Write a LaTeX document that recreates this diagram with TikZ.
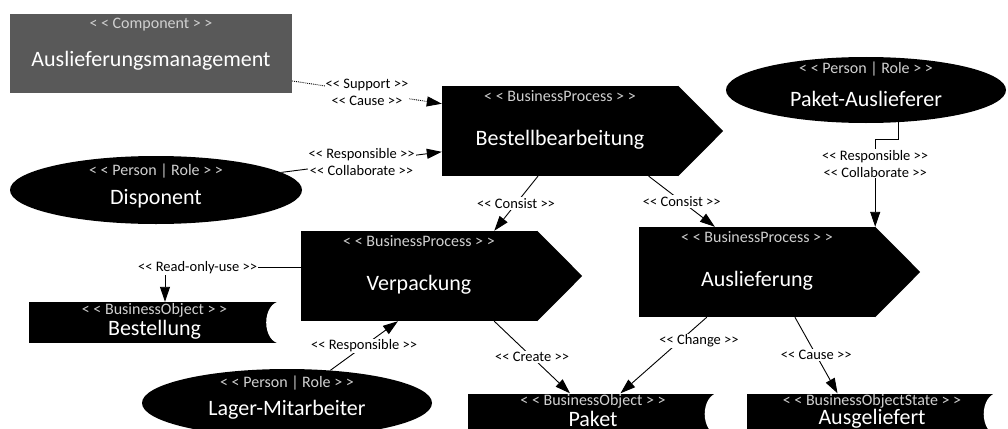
\documentclass[tikz,border=0pt]{standalone}
\usepackage{fontspec}
\setmainfont{Carlito}[Ligatures=TeXOff]
\usepackage{tikz}
\usetikzlibrary{shapes.geometric, arrows.meta, positioning}

\definecolor{compgray}{HTML}{595959}
\definecolor{stgray}{HTML}{D0D0D0}

% pointed end of a process box, concave end of an object box
\newcommand\proctip[1]{\fill (#1.north east) -- ([xshift=45pt]#1.east) -- (#1.south east) -- cycle;}
\newcommand\objbite[1]{\fill[white] (#1.east) ellipse [x radius=14, y radius=21];}

\begin{document}
\begin{tikzpicture}[x=1pt, y=-1pt,
  box/.style={fill=black, inner sep=0pt},
  proc/.style={box, minimum width=236pt, minimum height=90pt},
  person/.style={box, ellipse, minimum width=#1, minimum height=68pt},
  obj/.style={box, minimum width=251pt, minimum height=41pt},
  st/.style={font=\fontsize{16}{16}\selectfont, text=stgray, inner sep=1pt, anchor=north, yshift=-3pt},
  nm/.style={font=\fontsize{22}{22}\selectfont, text=white, inner sep=0pt, yshift=-9pt},
  conn/.style={line width=0.9pt, -{Triangle[length=15pt, width=10pt]}},
  lbl/.style={font=\fontsize{14.5}{17}\selectfont, fill=white, inner sep=1pt, align=center},
]
  \clip (0,0) rectangle (1008,428);

  \node[box, fill=compgray, minimum width=282pt, minimum height=79pt,
    label={[st]north:< < Component > >},
    label={[nm, yshift=2pt]center:Auslieferungsmanagement}] (comp) at (151,53.5) {};

  \node[proc, label={[st]north:< < BusinessProcess > >},
    label={[nm]center:Bestellbearbeitung}] (bestell) at (560,131) {};
  \node[proc, label={[st]north:< < BusinessProcess > >},
    label={[nm]center:Verpackung}] (verpack) at (419,276) {};
  \node[proc, label={[st]north:< < BusinessProcess > >},
    label={[nm]center:Auslieferung}] (ausl) at (757,272) {};
  \proctip{bestell}
  \proctip{verpack}
  \proctip{ausl}

  \node[person=292pt, label={[st, yshift=-4pt]north:< < Person | Role > >},
    label={[nm]center:Disponent}] (disp) at (156,190) {};
  \node[person=280pt, minimum height=66pt, label={[st, yshift=-1pt]north:< < Person | Role > >},
    label={[nm]center:Paket-Auslieferer}] (pausl) at (866,90) {};
  \node[person=290pt, label={[st, yshift=-3pt]north:< < Person | Role > >},
    label={[nm, yshift=2pt]center:Lager-Mitarbeiter}] (lager) at (287,403) {};

  \node[obj, label={[st, yshift=3pt]north:< < BusinessObject > >},
    label={[nm, yshift=2pt]center:Bestellung}] (bestellung) at (154.5,322.5) {};
  \node[obj, label={[st, yshift=3pt]north:< < BusinessObject > >},
    label={[nm, yshift=4pt]center:Paket}] (paket) at (593,414) {};
  \node[obj, label={[st, yshift=3pt]north:< < BusinessObjectState > >},
    label={[nm, yshift=4pt]center:Ausgeliefert}] (ausgel) at (872,414) {};
  \objbite{bestellung}
  \objbite{paket}
  \objbite{ausgel}

  % relations
  \draw[conn, densely dotted] (comp.-11) -- (bestell.167)
    node[midway, lbl] {<< Support >>\\<< Cause >>};
  \draw[conn] (disp.8) -- (bestell.190)
    node[midway, lbl] {<< Responsible >>\\<< Collaborate >>};
  \draw[conn] (bestell.-116) -- (verpack.31.6)
    node[midway, lbl] {<< Consist >>};
  \draw[conn] (bestell.-27) -- (ausl.133)
    node[midway, lbl] {<< Consist >>};
  \draw[conn] (pausl.-45) -- ++(0,17) -| (ausl.north east)
    node[pos=0.64, lbl] {<< Responsible >>\\<< Collaborate >>};
  \draw[conn] (verpack.176) -| ([xshift=10.5pt]bestellung.north)
    node[pos=0.38, lbl] {<< Read-only-use >>};
  \draw[conn] (lager.37) -- (verpack.-115)
    node[midway, lbl] {<< Responsible >>};
  \draw[conn] (verpack.-31.6) -- (paket.138)
    node[midway, lbl] {<< Create >>};
  \draw[conn] (ausl.-138) -- (paket.37)
    node[pos=0.31, xshift=19pt, lbl] {<< Change >>};
  \draw[conn] (ausl.-50) -- (ausgel.149)
    node[midway, lbl] {<< Cause >>};
\end{tikzpicture}
\end{document}
